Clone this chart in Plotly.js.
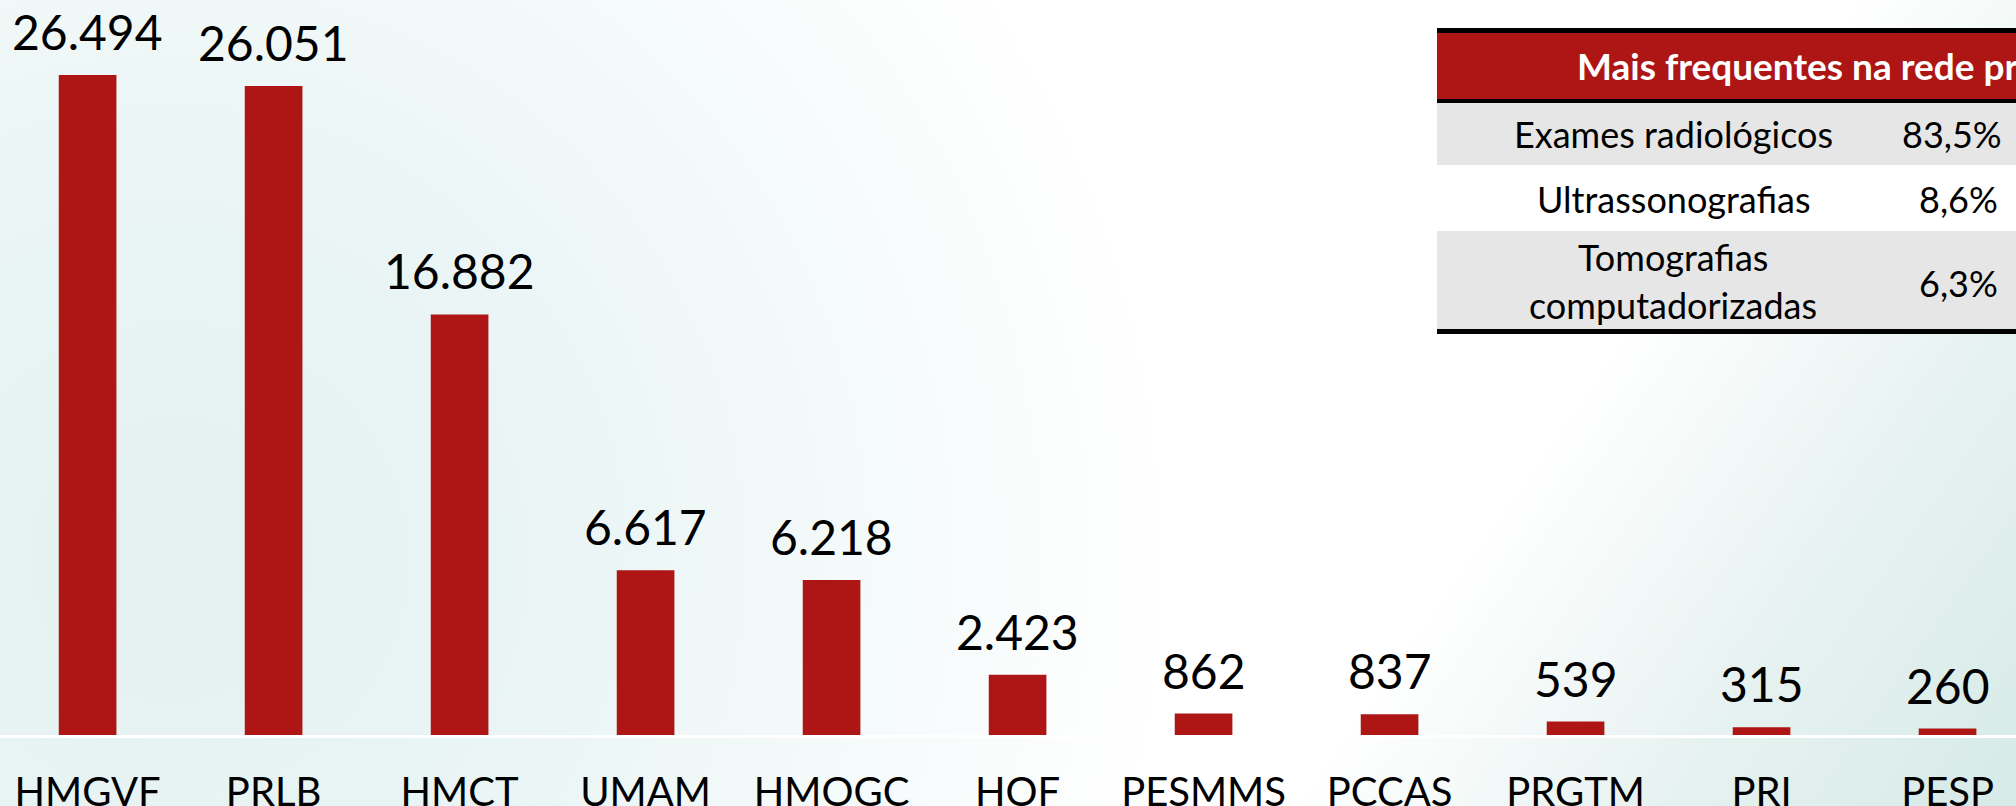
<!DOCTYPE html>
<html>
<head>
<meta charset="utf-8">
<script src="https://cdn.plot.ly/plotly-3.0.1.min.js"></script>
<style>
html,body{margin:0;padding:0;width:2016px;height:806px;overflow:hidden;}
body{
  background:
    linear-gradient(125deg, rgba(255,255,255,0) 72%, rgba(228,241,239,0.9) 86%, rgba(214,234,231,1) 100%),
    radial-gradient(circle at 170px 560px, rgba(228,241,241,1) 0px, rgba(233,244,244,0.95) 380px, rgba(255,255,255,0) 1000px),
    #ffffff;
}
#chart{width:2016px;height:806px;}
</style>
</head>
<body>
<div id="chart"></div>
<script>
// ---- data ----
const categories = ["HMGVF","PRLB","HMCT","UMAM","HMOGC","HOF","PESMMS","PCCAS","PRGTM","PRI","PESP"];
const values = [26494, 26051, 16882, 6617, 6218, 2423, 862, 837, 539, 315, 260];

const tableHeader = "Mais frequentes na rede própria";
const tableLabels = ["Exames radiológicos", "Ultrassonografias", "Tomografias computadorizadas"];
const tablePercents = ["83,5%", "8,6%", "6,3%"];

// ---- helpers ----
function fmt(v){ return String(v).replace(/\B(?=(\d{3})+(?!\d))/g, "."); }
const W = 2016, PLOT_H = 735;
const px = x => x / W;
const py = y => (PLOT_H - y) / PLOT_H;

const FONT = "Lato, 'Open Sans', sans-serif";
const RED = "#AE1616";

const trace = {
  type: "bar",
  x: categories,
  y: values,
  width: 0.31,
  marker: {color: RED, line: {width: 0}},
  hoverinfo: "skip"
};

const annotations = categories.map((c, i) => ({
  x: c, y: values[i], xref: "x", yref: "y",
  text: fmt(values[i]),
  showarrow: false, yanchor: "bottom", xanchor: "center",
  yshift: 13,
  font: {family: FONT, size: 48, color: "#000"}
}));

// table shapes
const L = 1437, R = 2100;
const shapes = [];
function rect(y0, y1, color){
  shapes.push({type:"rect", xref:"paper", yref:"paper", x0:px(L), x1:px(R), y0:py(y1), y1:py(y0),
    fillcolor:color, line:{width:0}, layer:"above"});
}
rect(28, 33, "#000000");
rect(33, 99, RED);
rect(99, 103, "#000000");
rect(103, 165, "#E6E6E6");
rect(165, 231, "#FFFFFF");
rect(231, 329, "#E6E6E6");
rect(329, 334, "#000000");

function txt(s, x, y, anchor, opts){
  annotations.push(Object.assign({
    text: s, xref:"paper", yref:"paper", x: px(x), y: py(y),
    xanchor: anchor, yanchor: "middle", showarrow:false,
    font: {family: FONT, size: 36, color: "#000"}
  }, opts || {}));
}
txt("<b>" + tableHeader + "</b>", 1575, 66, "left", {font:{family: FONT, size: 37, color:"#fff"}});
txt(tableLabels[0], 1673, 134, "center");
txt(tableLabels[1], 1673, 199, "center");
const tomo = tableLabels[2].split(" ");
txt(tomo[0], 1673, 257, "center");
txt(tomo[1], 1673, 305, "center");
txt(tablePercents[0], 1952, 134, "center");
txt(tablePercents[1], 1958, 199, "center");
txt(tablePercents[2], 1958, 283, "center");

const layout = {
  width: 2016, height: 806,
  margin: {l:0, r:0, t:0, b:71, pad:0},
  paper_bgcolor: "rgba(0,0,0,0)",
  plot_bgcolor: "rgba(0,0,0,0)",
  showlegend: false,
  xaxis: {
    type: "category",
    range: [-0.471, 10.368],
    showline: true, linecolor: "#ffffff", linewidth: 3,
    showgrid: false, zeroline: false, ticks: "",
    ticklabelstandoff: 20,
    tickfont: {family: FONT, size: 40, color: "#000"},
    fixedrange: true
  },
  yaxis: {
    range: [0, 29506], visible: false, showgrid: false, zeroline: false, fixedrange: true
  },
  shapes: shapes,
  annotations: annotations
};

Plotly.newPlot("chart", [trace], layout, {staticPlot: true, displayModeBar: false});
</script>
</body>
</html>
